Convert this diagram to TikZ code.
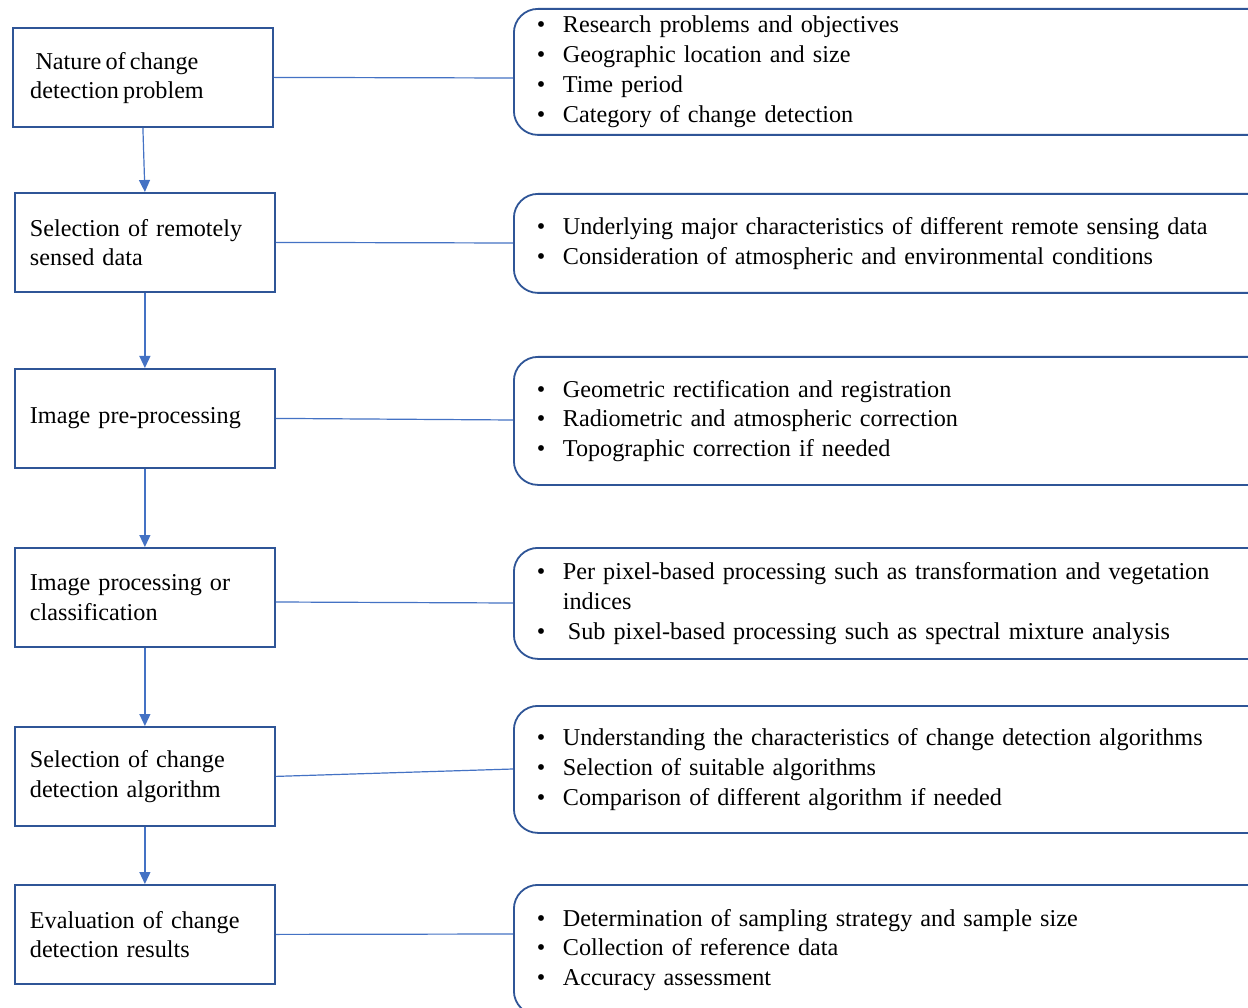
\documentclass[tikz,border=0pt]{standalone}
\usepackage{fontspec}
\setmainfont[WordSpace=0.7]{Liberation Serif}
\usetikzlibrary{arrows.meta,positioning}
\definecolor{boxblue}{HTML}{2F5597}
\definecolor{lineblue}{HTML}{4472C4}
\begin{document}
\begin{tikzpicture}[x=1pt,y=-1pt,
  lbox/.style={draw=boxblue,line width=1.8pt,anchor=north west,minimum width=#1,minimum height=99pt,text width=230pt,inner xsep=15pt,inner ysep=0pt,align=left,font=\fontsize{24.2}{29.5}\selectfont},
  rbox/.style={draw=boxblue,line width=1.8pt,rounded corners=24pt,anchor=north west,minimum width=760pt,minimum height=#1,text width=720pt,inner xsep=20pt,inner ysep=0pt,align=left,font=\fontsize{24.2}{29.8}\selectfont},
  conn/.style={draw=lineblue,line width=1.2pt},
  arr/.style={draw=lineblue,line width=1.2pt,-{Triangle[length=12pt,width=11pt]}},
  lbl/.style={align=center,inner sep=0pt,font=\fontsize{24.2}{29.5}\selectfont}
]
\useasboundingbox (0,0) rectangle (1248,1008);
\clip (0,0) rectangle (1248,1008);
\fill[white] (0,0) rectangle (1248,1008);
\newcommand{\bul}{\hspace*{3pt}\makebox[26pt][l]{•}}
% left boxes
\node[lbox=259pt] (b1) at (12,27) {};
\node[lbl] (b1t) at (117,78) {Nature of change\\detection problem};
\node[lbox=260pt] (b2) at (14,192) {Selection of remotely\\sensed data};
\node[lbox=260pt] (b3) at (14,368) {Image pre-processing};
\node[lbox=260pt] (b4) at (14,547) {Image processing or\\classification};
\node[lbox=260pt] (b5) at (14,726) {Selection of change\\detection algorithm};
\node[lbox=260pt] (b6) at (14,884) {Evaluation of change\\detection results};
% right boxes
\node[rbox=126pt] (r1) at (513,8) {\bul Research problems and objectives\\\bul Geographic location and size\\\bul Time period\\\bul Category of change detection};
\node[rbox=99pt] (r2) at (513,193) {\bul Underlying major characteristics of different remote sensing data\\\bul Consideration of atmospheric and environmental conditions};
\node[rbox=128pt] (r3) at (513,356) {\bul Geometric rectification and registration\\\bul Radiometric and atmospheric correction\\\bul Topographic correction if needed};
\node[rbox=111pt] (r4) at (513,547) {\bul Per pixel-based processing such as transformation and vegetation\\\hspace*{29pt}indices\\\bul\hspace*{5pt}Sub pixel-based processing such as spectral mixture analysis};
\node[rbox=127pt] (r5) at (513,705) {\bul Understanding the characteristics of change detection algorithms\\\bul Selection of suitable algorithms\\\bul Comparison of different algorithm if needed};
\node[rbox=130pt] (r6) at (513,884) {\bul Determination of sampling strategy and sample size\\\bul Collection of reference data\\\bul Accuracy assessment};
% horizontal connectors
\draw[conn] (b1.east) -- (r1.west |- 0,78);
\draw[conn] (b2.east) -- (r2.west |- 0,243);
\draw[conn] (b3.east) -- (r3.west |- 0,420);
\draw[conn] (b4.east |- 0,602) -- (r4.west |- 0,603);
\draw[conn] (b5.east) -- (r5.west |- 0,769);
\draw[conn] (b6.east) -- (r6.west |- 0,934);
% vertical arrows
\draw[arr] (b1.south) -- (b2.north);
\draw[arr] (b2.south) -- (b3.north);
\draw[arr] (b3.south) -- (b4.north);
\draw[arr] (b4.south) -- (b5.north);
\draw[arr] (b5.south) -- (b6.north);
\end{tikzpicture}
\end{document}
